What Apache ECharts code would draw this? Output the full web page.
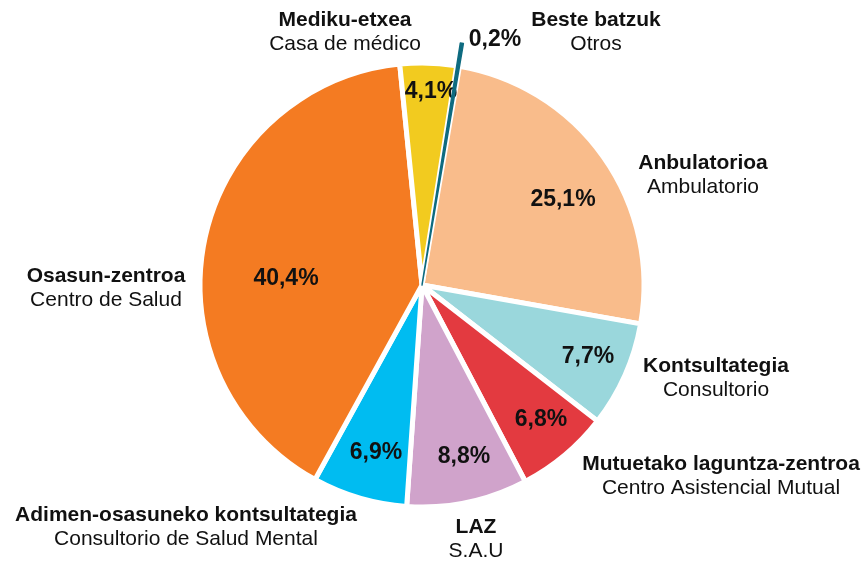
<!DOCTYPE html>
<html>
<head>
<meta charset="utf-8">
<script src="https://cdn.jsdelivr.net/npm/echarts@6/dist/echarts.min.js"></script>
<style>
html,body{margin:0;padding:0;background:#fff;}
#chart{width:863px;height:563px;}
</style>
</head>
<body>
<div id="chart"></div>
<script>
// Data
const categories = ['Beste batzuk', 'Anbulatorioa', 'Kontsultategia', 'Mutuetako laguntza-zentroa', 'LAZ', 'Adimen-osasuneko kontsultategia', 'Osasun-zentroa', 'Mediku-etxea'];
const subtitles = ['Otros', 'Ambulatorio', 'Consultorio', 'Centro Asistencial Mutual', 'S.A.U', 'Consultorio de Salud Mental', 'Centro de Salud', 'Casa de médico'];
const values = [0.2, 25.1, 7.7, 6.8, 8.8, 6.9, 40.4, 4.1];

// Styling / layout (not data)
const colors = ['#0e6b80', '#f9bc8b', '#9ad7dc', '#e33a40', '#d0a3cb', '#00bcf1', '#f47b22', '#f2cb1f'];
const percentPos = [[495,40],[563,200],[588,357],[541,420],[464,457],[376,453],[286,279],[431,92]];
const namePos = [[596,32],[703,175],[716,378],[721,476],[476,539],[186,527],[106,288],[345,32]];
const FONT = '"Liberation Sans", Arial, sans-serif';
const CENTER = [422, 285];
const START = 81;

const fmtPct = v => v.toFixed(1).replace('.', ',') + '%';

const chart = echarts.init(document.getElementById('chart'));
chart.setOption({
  animation: false,
  backgroundColor: '#fff',
  series: [
    {
      type: 'pie',
      center: CENTER,
      radius: [0, 222],
      startAngle: START,
      clockwise: true,
      avoidLabelOverlap: false,
      silent: true,
      z: 2,
      data: categories.map((c, i) => ({
        name: c,
        value: values[i],
        itemStyle: { color: colors[i], borderColor: '#fff', borderWidth: 5 }
      })),
      label: {
        show: true,
        position: 'inside',
        formatter: p => fmtPct(p.value),
        fontFamily: FONT,
        fontWeight: 'bold',
        fontSize: 23,
        color: '#111'
      },
      labelLine: { show: false },
      labelLayout: p => ({ x: percentPos[p.dataIndex][0], y: percentPos[p.dataIndex][1], align: 'center', verticalAlign: 'middle' })
    },
    {
      type: 'pie',
      center: CENTER,
      radius: [0, 245],
      startAngle: START,
      clockwise: true,
      avoidLabelOverlap: false,
      silent: true,
      z: 3,
      data: categories.map((c, i) => ({
        name: c,
        value: values[i],
        itemStyle: i === 0
          ? { color: colors[0], borderColor: colors[0], borderWidth: 1.5 }
          : { color: 'rgba(0,0,0,0)', borderWidth: 0 }
      })),
      label: {
        show: true,
        position: 'inside',
        formatter: p => '{b|' + p.name + '}\n{r|' + subtitles[p.dataIndex] + '}',
        fontFamily: FONT,
        color: '#111',
        rich: {
          b: { fontFamily: FONT, fontWeight: 'bold', fontSize: 21, lineHeight: 24, color: '#111', align: 'center' },
          r: { fontFamily: FONT, fontSize: 21, lineHeight: 24, color: '#111', align: 'center' }
        }
      },
      labelLine: { show: false },
      labelLayout: p => ({ x: namePos[p.dataIndex][0], y: namePos[p.dataIndex][1], align: 'center', verticalAlign: 'middle' })
    }
  ]
});
</script>
</body>
</html>
